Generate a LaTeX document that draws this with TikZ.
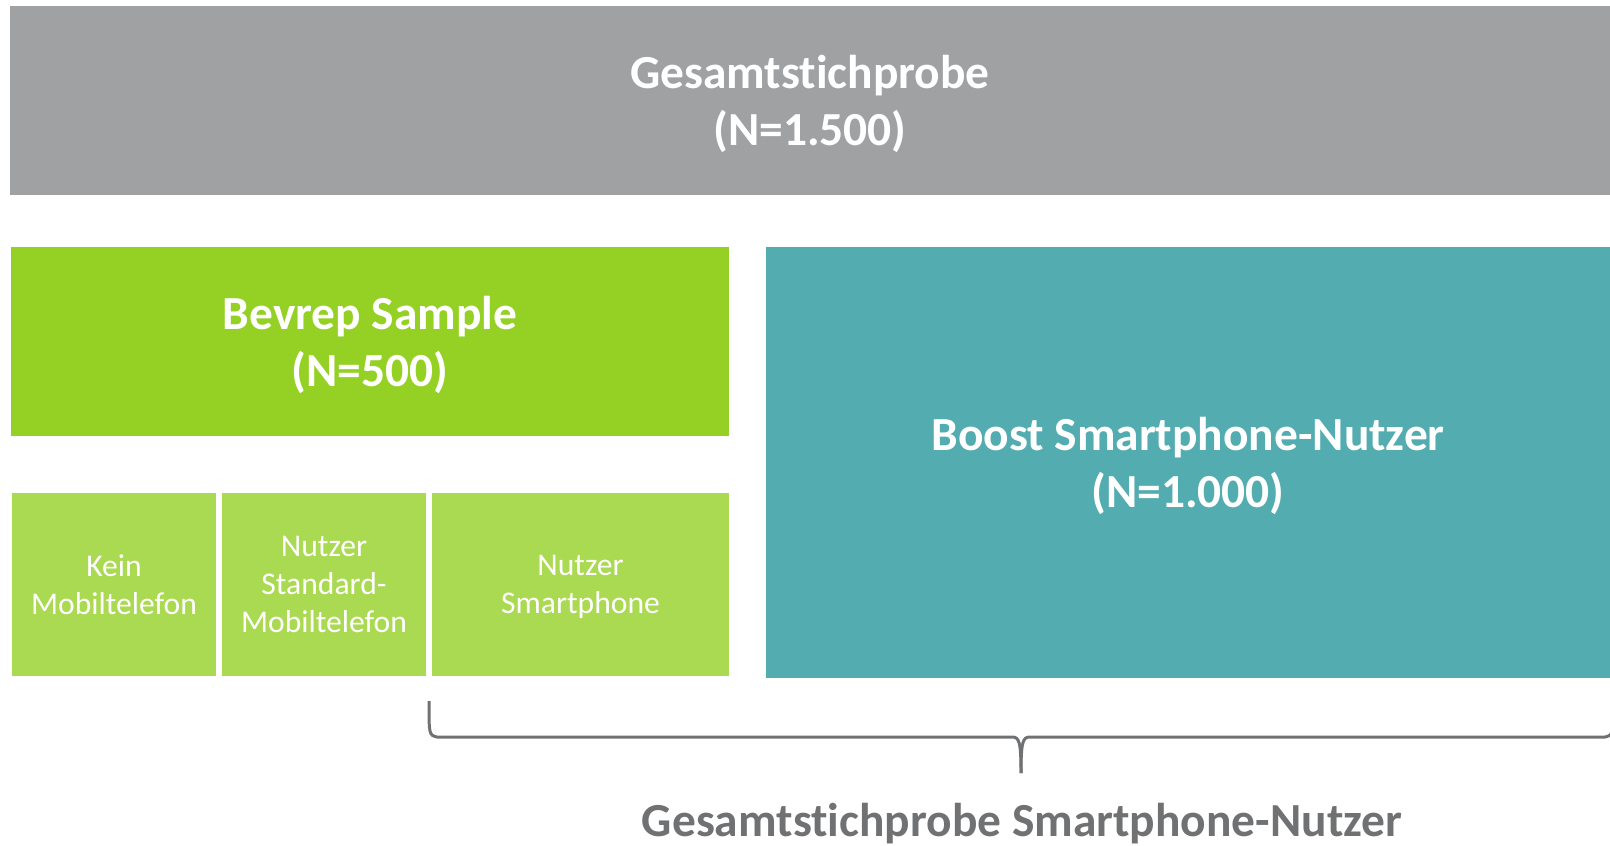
\documentclass[tikz,border=0pt]{standalone}
\usepackage{fontspec}
\setmainfont{Carlito}[Ligatures=NoCommon]
\usepackage{xcolor}

\definecolor{totalgray}{RGB}{160,161,163}
\definecolor{bevgreen}{RGB}{148,209,36}
\definecolor{subgreen}{RGB}{170,217,82}
\definecolor{boostteal}{RGB}{83,172,176}
\definecolor{bracegray}{RGB}{112,113,115}

\tikzset{
  bigbox/.style={fill=#1, text=white, align=center, inner sep=0pt, text depth=0pt,
    font=\bfseries\fontsize{13.5}{16.2}\selectfont},
  subbox/.style={fill=subgreen, text=white, align=center, inner sep=0pt, text depth=0pt,
    minimum height=18.3mm, font=\fontsize{9}{10.8}\selectfont},
  bracestyle/.style={draw=bracegray, line width=0.85pt}
}

\begin{document}
\begin{tikzpicture}[x=0.1mm, y=-0.1mm]
        \useasboundingbox (0, 0) rectangle (1610, 845);

        % top row
        \node[bigbox=totalgray, minimum width=160mm, minimum height=18.9mm] (total) at (810, 100.5)
            {Gesamtstichprobe\\(N=1.500)};

        % middle row
        \node[bigbox=bevgreen, minimum width=71.8mm, minimum height=18.9mm] (bevrep) at (370, 341.5)
            {Bevrep Sample\\(N=500)};
        \node[bigbox=boostteal, minimum width=84.4mm, minimum height=43.1mm] (boost) at (1188, 462.5)
            {Boost Smartphone-Nutzer\\(N=1.000)};

        % sub groups of the bevrep sample
        \node[subbox, minimum width=20.4mm] (kein) at (114, 584.5) {Kein\\Mobiltelefon};
        \node[subbox, minimum width=20.4mm] (standard) at (324, 584.5) {Nutzer\\Standard-\\Mobiltelefon};
        \node[subbox, minimum width=29.7mm] (smart) at (580.5, 584.5) {Nutzer\\Smartphone};

        % brace below
        \coordinate (braceleft) at (429, 701);
        \coordinate (braceright) at (1613, 701);
        \coordinate (bracetip) at (1021, 773);
        \draw[bracestyle] (braceleft) .. controls (429, 735) .. (437, 737) -- (1012, 737)
            .. controls (1019, 737) and (1021, 741) .. (bracetip);
        \draw[bracestyle] (bracetip) .. controls (1021, 741) and (1023, 737) .. (1030, 737) -- (1605, 737)
            .. controls (1613, 735) .. (braceright);

        \node[text=bracegray, font=\bfseries\fontsize{13.5}{16.2}\selectfont] (alluser) at (1022, 824)
            {Gesamtstichprobe Smartphone-Nutzer};
\end{tikzpicture}
\end{document}
